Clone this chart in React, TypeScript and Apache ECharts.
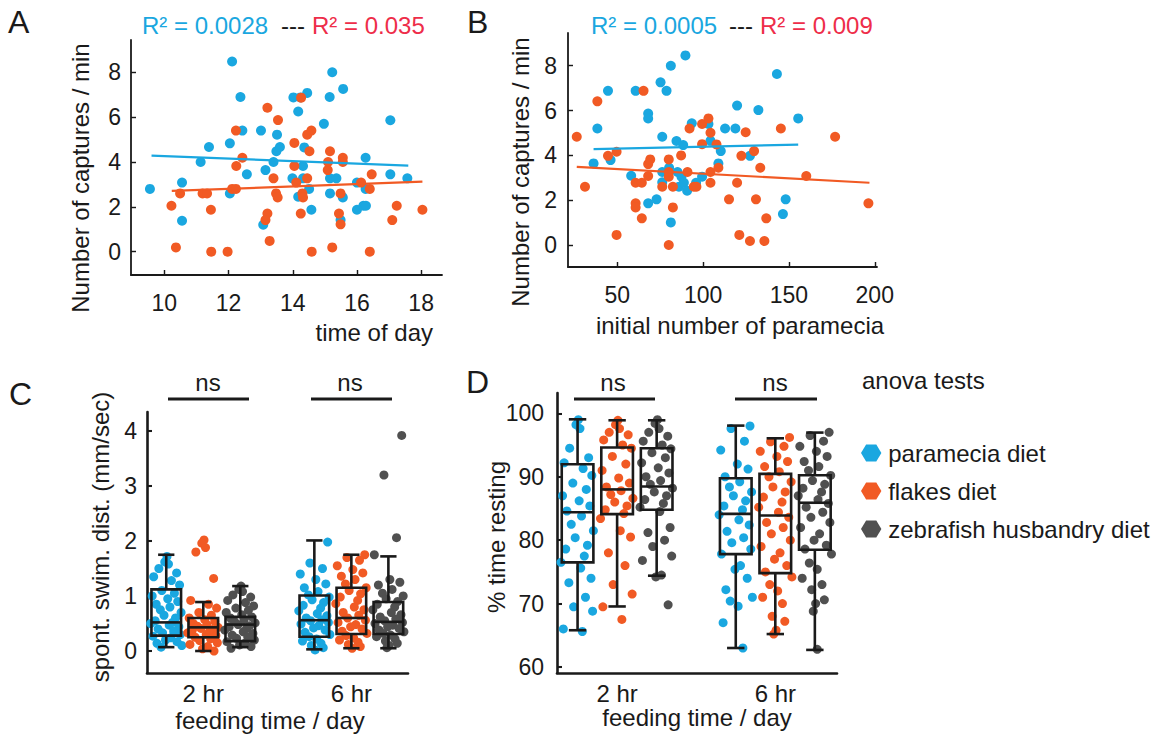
import React, { useEffect, useRef } from 'react';
import * as echarts from 'echarts';

const BLUE = '#1AA7E0';
const ORANGE = '#F15A24';
const GRAY = '#505050';
const RED_TXT = '#EE2D49';
const INK = '#1a1a1a';
const FONT = "'Liberation Sans', Arial, Helvetica, sans-serif";

// ---------- Panel A: captures vs time of day ----------
const timeTicks = [10, 12, 14, 16, 18];
const captureTicks = [0, 2, 4, 6, 8];
const timeParamecia: [number, number][] = [
  [9.55, 2.8], [10.55, 3.08], [10.55, 1.38], [11.13, 4.0], [11.39, 4.67], [12.04, 4.83], [12.04, 2.6],
  [12.11, 8.48], [12.37, 6.9], [12.43, 5.4], [12.57, 3.45], [13.01, 5.4], [13.15, 3.64], [13.08, 1.2],
  [13.4, 4.0], [13.51, 5.22], [13.49, 4.48], [13.6, 4.67], [14.02, 6.88], [14.17, 6.25], [14.24, 6.88],
  [14.45, 7.08], [14.32, 3.82], [14.36, 4.65], [13.99, 3.27], [14.17, 2.45], [14.32, 3.27], [14.51, 2.8],
  [14.58, 1.87], [14.97, 5.7], [15.15, 6.9], [15.23, 8.0], [15.57, 7.26], [15.16, 3.27], [15.36, 3.27],
  [15.16, 2.6], [15.56, 2.42], [15.49, 1.41], [16.0, 3.08], [16.0, 1.87], [16.2, 2.05], [16.28, 2.05],
  [16.27, 4.19], [16.27, 2.8], [17.04, 5.86], [17.04, 3.45], [17.57, 3.27],
];
const timeFlakes: [number, number][] = [
  [10.22, 2.05], [10.36, 0.19], [10.49, 2.6], [11.19, 2.6], [11.33, 2.6], [11.45, 1.87], [11.46, 0.0],
  [11.97, 0.0], [12.11, 2.8], [12.23, 2.8], [12.24, 3.82], [12.23, 5.4], [12.43, 4.19], [13.21, 6.42],
  [13.21, 1.7], [13.15, 1.41], [13.28, 0.48], [13.4, 3.27], [13.48, 2.6], [13.53, 2.42], [13.54, 5.87],
  [14.05, 4.85], [14.05, 3.82], [14.11, 3.08], [14.26, 6.87], [14.25, 1.7], [14.3, 2.6], [14.32, 2.42],
  [14.45, 3.27], [14.45, 5.22], [14.58, 5.4], [14.52, 4.48], [14.59, 0.0], [15.09, 3.64], [15.1, 4.0],
  [15.16, 4.48], [15.23, 0.19], [15.49, 2.6], [15.44, 1.7], [15.49, 1.22], [15.56, 4.19], [15.56, 4.0],
  [16.13, 3.08], [16.4, 2.8], [16.46, 3.45], [16.4, 0.0], [17.1, 1.41], [17.24, 2.05], [18.04, 1.87],
];
const timeFitParamecia: [number, number][] = [[9.6, 4.28], [17.6, 3.84]];
const timeFitFlakes: [number, number][] = [[10.23, 2.71], [18.04, 3.12]];
const timeR2 = ['R² = 0.0028', 'R² = 0.035'];

// ---------- Panel B: captures vs initial number of paramecia ----------
const initTicks = [50, 100, 150, 200];
const initParamecia: [number, number][] = [
  [36.2, 3.64], [38.4, 5.2], [44.6, 6.88], [46.1, 3.79], [58.1, 3.09], [60.7, 6.88], [68.0, 5.87],
  [68.0, 5.65], [68.0, 1.86], [72.9, 2.04], [75.2, 7.26], [76.2, 4.83], [76.2, 2.8], [76.2, 3.26],
  [78.7, 6.88], [81.2, 8.0], [81.2, 1.01], [80.2, 3.45], [84.5, 4.64], [85.1, 3.26], [85.9, 2.6],
  [87.4, 3.05], [88.4, 4.46], [88.8, 2.78], [89.7, 8.46], [90.7, 2.42], [93.4, 5.43], [95.9, 2.78],
  [99.4, 3.05], [103.1, 5.4], [104.3, 4.65], [108.9, 3.64], [110.3, 4.19], [112.8, 5.2], [118.8, 5.2],
  [119.8, 6.22], [127.3, 3.98], [132.2, 6.02], [143.0, 7.63], [146.5, 1.38], [148.1, 2.04], [155.4, 5.65],
];
const initFlakes: [number, number][] = [
  [26.4, 4.83], [31.2, 2.6], [38.4, 6.41], [44.6, 3.98], [49.6, 4.16], [49.6, 0.45], [60.7, 2.78],
  [60.7, 1.86], [60.7, 1.68], [64.3, 2.78], [64.3, 1.19], [65.3, 6.88], [68.0, 3.08], [68.0, 3.61],
  [69.2, 3.82], [76.2, 2.6], [80.0, 3.82], [80.0, 0.0], [80.0, 3.05], [80.0, 3.26], [82.4, 1.68],
  [82.4, 2.6], [87.2, 4.0], [90.9, 3.26], [92.1, 5.2], [94.6, 2.6], [96.1, 2.6], [99.4, 5.4], [99.4, 4.5],
  [103.1, 5.65], [104.3, 5.01], [104.3, 3.26], [104.3, 2.78], [107.8, 4.49], [108.9, 3.45], [115.1, 2.04],
  [119.8, 2.78], [121.1, 0.45], [122.3, 3.98], [124.8, 5.03], [127.3, 0.18], [129.7, 4.19], [130.8, 2.04],
  [133.3, 3.45], [135.7, 0.18], [136.8, 1.19], [145.3, 5.2], [160.1, 3.08], [176.9, 4.83], [196.3, 1.86],
];
const initFitParamecia: [number, number][] = [[36.2, 4.28], [155.4, 4.48]];
const initFitFlakes: [number, number][] = [[26.4, 3.49], [196.9, 2.78]];
const initR2 = ['R² = 0.0005', 'R² = 0.009'];

// ---------- Panels C & D ----------
const feedingTimes = ['2 hr', '6 hr'];
const diets = ['paramecia diet', 'flakes diet', 'zebrafish husbandry diet'];
const swimTicks = [0, 1, 2, 3, 4];
const restTicks = [60, 70, 80, 90, 100];

// box stats: [low whisker, q1, median, q3, high whisker] per diet
const swimBoxes2hr = [[0.07, 0.28, 0.52, 1.12, 1.75], [0.0, 0.25, 0.43, 0.6, 0.89], [0.07, 0.18, 0.48, 0.62, 1.18]];
const swimBoxes6hr = [[0.03, 0.26, 0.56, 1.01, 2.01], [0.05, 0.31, 0.6, 1.15, 1.75], [0.05, 0.31, 0.53, 0.89, 1.72]];
const restBoxes2hr = [[65.8, 76.5, 84.4, 91.97, 99.05], [69.55, 84.1, 88.0, 94.6, 98.9], [74.4, 84.8, 88.45, 94.5, 98.9]];
const restBoxes6hr = [[63.0, 77.8, 84.15, 89.76, 98.06], [65.2, 74.8, 83.9, 90.45, 96.06], [62.7, 78.5, 85.9, 90.24, 96.96]];

// individual fish values
const swim2hrParamecia = [1.72, 1.62, 1.58, 1.5, 1.42, 1.35, 1.28, 1.2, 1.1, 1.05, 1.0, 0.95, 0.9, 0.85, 0.8, 0.75, 0.7, 0.65, 0.6, 0.55, 0.52, 0.5, 0.47, 0.44, 0.4, 0.36, 0.33, 0.3, 0.27, 0.24, 0.2, 0.17, 0.14, 0.1, 0.07];
const swim2hrFlakes = [2.02, 1.96, 1.88, 1.8, 1.32, 0.92, 0.85, 0.78, 0.7, 0.65, 0.6, 0.57, 0.54, 0.5, 0.48, 0.45, 0.43, 0.41, 0.39, 0.37, 0.35, 0.33, 0.3, 0.28, 0.25, 0.22, 0.19, 0.15, 0.12, 0.08, 0.04, 0.0];
const swim2hrZebrafish = [1.18, 1.12, 1.08, 1.02, 0.98, 0.92, 0.88, 0.82, 0.78, 0.74, 0.7, 0.66, 0.62, 0.6, 0.57, 0.54, 0.51, 0.48, 0.46, 0.44, 0.41, 0.38, 0.35, 0.32, 0.29, 0.26, 0.23, 0.2, 0.17, 0.14, 0.11, 0.08, 0.05];
const swim6hrParamecia = [1.98, 1.6, 1.5, 1.4, 1.3, 1.22, 1.15, 1.08, 1.02, 0.98, 0.93, 0.88, 0.83, 0.78, 0.73, 0.68, 0.64, 0.6, 0.57, 0.55, 0.52, 0.49, 0.46, 0.42, 0.38, 0.34, 0.3, 0.26, 0.22, 0.18, 0.14, 0.1, 0.06, 0.02];
const swim6hrFlakes = [1.75, 1.7, 1.65, 1.55, 1.48, 1.42, 1.36, 1.3, 1.22, 1.15, 1.1, 1.04, 0.98, 0.92, 0.86, 0.8, 0.75, 0.7, 0.65, 0.6, 0.56, 0.52, 0.48, 0.44, 0.4, 0.36, 0.32, 0.28, 0.24, 0.2, 0.16, 0.12, 0.08, 0.05];
const swim6hrZebrafish = [3.92, 3.2, 2.06, 1.75, 1.3, 1.25, 1.2, 1.12, 1.05, 1.0, 0.95, 0.9, 0.85, 0.8, 0.75, 0.7, 0.66, 0.62, 0.58, 0.55, 0.52, 0.5, 0.47, 0.44, 0.41, 0.38, 0.35, 0.32, 0.29, 0.26, 0.22, 0.18, 0.14, 0.1, 0.06];

const rest2hrParamecia = [99, 98.2, 97.6, 94.5, 93, 92.2, 91.3, 90.2, 89, 88, 87, 86.2, 85.4, 84.6, 83.8, 82.5, 81.5, 80.4, 79.2, 78.6, 77.5, 76.5, 75.6, 74, 73.3, 71, 69.5, 68.8, 66, 65.6];
const rest2hrFlakes = [98.9, 98.2, 97.6, 97, 96.6, 95.8, 95, 94.5, 93.2, 92, 91, 89.8, 89, 88.4, 87.8, 87.2, 86.6, 86, 85.4, 84.8, 84.2, 83.4, 81.5, 80.5, 78, 76, 73, 71.5, 69.5, 67.5];
const rest2hrZebrafish = [99, 98.4, 97.6, 97, 96.4, 95.6, 95, 94.4, 93.8, 93, 92.2, 91.4, 90.6, 90, 89.4, 88.8, 88.2, 87.6, 87, 86.4, 85.8, 85.2, 84.5, 82, 81.2, 80, 79, 77.5, 76.8, 74.5, 74.2, 69.8];
const rest6hrParamecia = [98, 97.6, 95.6, 94.2, 92, 91.2, 90, 89.2, 88.4, 87.6, 87, 86.2, 85.4, 84.8, 84, 83.2, 82.4, 81.4, 80.4, 79.6, 78.6, 77.8, 76, 75.4, 74, 72.2, 71, 70.4, 69.6, 67, 63];
const rest6hrFlakes = [96.2, 95.5, 94.8, 94, 93.2, 92.4, 91.6, 90.8, 90, 89.2, 88.4, 87.6, 86.8, 86, 85.2, 84.4, 83.6, 82.8, 82, 81, 80, 79, 78, 77, 76, 75, 74.2, 73, 72, 71, 70, 68, 67.2, 65.8, 65.2];
const rest6hrZebrafish = [97, 96.5, 95.6, 94.8, 94, 93.2, 92.4, 91.6, 91, 90.2, 89.4, 88.8, 88.2, 87.6, 87, 86.4, 85.8, 85.2, 84.4, 83.6, 82.8, 82, 81, 80, 79.2, 78.6, 77.8, 76.4, 75.4, 74, 73, 72.2, 70.6, 70, 68.8, 62.8];

// horizontal jitter offsets for the dot strips (category-width units)
const jitter = [0.02, -0.04, 0.06, -0.2, 0.28, -0.34, 0.14, 0.36, -0.12, 0.22, -0.38, 0.04, 0.31, -0.27, 0.1, -0.16, 0.4, -0.06, 0.25, -0.3, 0.17, -0.42, 0.08, 0.34, -0.22, 0.2, -0.1, 0.38, -0.36, 0.12, -0.02, 0.29, -0.25, 0.42, -0.14, 0.06, -0.32, 0.18, -0.08, 0.24];

const dietColors = [BLUE, ORANGE, GRAY];
const slot = (g: number, k: number) => g * 4 + k + 1;

const stripData = (arr2: number[], arr6: number[], k: number) => [
  ...arr2.map((v, i) => [slot(0, k) + jitter[i % jitter.length], v]),
  ...arr6.map((v, i) => [slot(1, k) + jitter[(i + 7) % jitter.length], v]),
];
const boxData = (b2: number[][], b6: number[][]) => [
  ...b2.map((s, k) => [slot(0, k), ...s]),
  ...b6.map((s, k) => [slot(1, k), ...s]),
];

const boxRender = (params: any, api: any) => {
  const x = api.value(0);
  const lo = api.coord([x, api.value(1)]);
  const q1 = api.coord([x, api.value(2)]);
  const med = api.coord([x, api.value(3)]);
  const q3 = api.coord([x, api.value(4)]);
  const hi = api.coord([x, api.value(5)]);
  const bw = api.size([0.8, 0])[0];
  const cw = api.size([0.44, 0])[0];
  const cx = lo[0];
  const st = { stroke: INK, lineWidth: 2.6, fill: 'none' };
  return {
    type: 'group',
    children: [
      { type: 'line', shape: { x1: cx, y1: q3[1], x2: cx, y2: hi[1] }, style: st },
      { type: 'line', shape: { x1: cx, y1: q1[1], x2: cx, y2: lo[1] }, style: st },
      { type: 'line', shape: { x1: cx - cw / 2, y1: hi[1], x2: cx + cw / 2, y2: hi[1] }, style: st },
      { type: 'line', shape: { x1: cx - cw / 2, y1: lo[1], x2: cx + cw / 2, y2: lo[1] }, style: st },
      { type: 'rect', shape: { x: cx - bw / 2, y: q3[1], width: bw, height: q1[1] - q3[1] }, style: st },
      { type: 'line', shape: { x1: cx - bw / 2, y1: med[1], x2: cx + bw / 2, y2: med[1] }, style: st },
    ],
  };
};

const valueAxis = (gridIndex: number, min: number, max: number, ticks: number[] | null, lineW: number, margin: number) => ({
  type: 'value',
  gridIndex,
  min,
  max,
  axisLine: { show: true, onZero: false, lineStyle: { color: INK, width: lineW } },
  axisTick: ticks
    ? { show: true, inside: true, length: 5, customValues: ticks, lineStyle: { color: INK, width: lineW * 0.8 } }
    : { show: false },
  axisLabel: { color: INK, fontSize: 23, fontFamily: FONT, margin, customValues: ticks || undefined },
  splitLine: { show: false },
});

function buildOption() {
  const text = (t: string, x: number, y: number, size: number, color = INK, align = 'left', rotate = 0) => ({
    type: 'text',
    x,
    y,
    rotation: rotate,
    silent: true,
    style: { text: t, fill: color, fontSize: size, fontFamily: FONT, textAlign: align, textVerticalAlign: 'middle' },
  });
  const hline = (x1: number, x2: number, y: number) => ({
    type: 'line',
    silent: true,
    shape: { x1, y1: y, x2, y2: y },
    style: { stroke: INK, lineWidth: 3 },
  });

  const catAxis = (gridIndex: number, max: number) => ({
    type: 'value',
    gridIndex,
    min: 0.48,
    max,
    axisLine: { show: true, onZero: false, lineStyle: { color: INK, width: 2.6 } },
    axisTick: { show: false },
    axisLabel: {
      color: INK,
      fontSize: 24,
      fontFamily: FONT,
      margin: 8,
      customValues: [2, 6],
      formatter: (v: number) => (v < 4 ? feedingTimes[0] : feedingTimes[1]),
    },
    splitLine: { show: false },
  });

  const scatter = (name: string, data: any, color: string, xi: number, size: number) => ({
    type: 'scatter',
    name,
    xAxisIndex: xi,
    yAxisIndex: xi,
    data,
    symbol: 'circle',
    symbolSize: size,
    itemStyle: { color, opacity: 1 },
    z: 2,
    silent: true,
  });
  const fit = (data: any, color: string, xi: number) => ({
    type: 'line',
    xAxisIndex: xi,
    yAxisIndex: xi,
    data,
    symbol: 'none',
    lineStyle: { color, width: 2.2 },
    z: 4,
    silent: true,
  });

  return {
    animation: false,
    backgroundColor: '#ffffff',
    textStyle: { fontFamily: FONT },
    grid: [
      { left: 131, top: 40, width: 311, height: 235, outerBoundsMode: 'none', containLabel: false },
      { left: 568, top: 33, width: 309, height: 234, outerBoundsMode: 'none', containLabel: false },
      { left: 147, top: 412, width: 261, height: 261, outerBoundsMode: 'none', containLabel: false },
      { left: 557, top: 393, width: 280, height: 280, outerBoundsMode: 'none', containLabel: false },
    ],
    xAxis: [
      valueAxis(0, 8.96, 18.65, timeTicks, 1.8, 16),
      valueAxis(1, 21.3, 201.3, initTicks, 1.8, 16),
      catAxis(2, 7.53),
      catAxis(3, 7.56),
    ],
    yAxis: [
      valueAxis(0, -1.04, 9.44, captureTicks, 1.8, 10),
      valueAxis(1, -0.98, 9.46, captureTicks, 1.8, 11),
      valueAxis(2, -0.4, 4.345, swimTicks, 2.6, 10),
      valueAxis(3, 59.06, 103.2, restTicks, 2.6, 13),
    ],
    legend: {
      show: true,
      orient: 'vertical',
      left: 856,
      top: 436,
      itemWidth: 24,
      itemHeight: 17,
      itemGap: 14,
      selectedMode: false,
      icon: 'path://M0,5 L3,0 L9,0 L12,5 L9,10 L3,10 Z',
      textStyle: { fontSize: 24, fontFamily: FONT, color: INK },
      data: diets,
    },
    series: [
      scatter('A paramecia', timeParamecia, BLUE, 0, 10),
      scatter('A flakes', timeFlakes, ORANGE, 0, 10),
      fit(timeFitParamecia, BLUE, 0),
      fit(timeFitFlakes, ORANGE, 0),
      scatter('B paramecia', initParamecia, BLUE, 1, 10),
      scatter('B flakes', initFlakes, ORANGE, 1, 10),
      fit(initFitParamecia, BLUE, 1),
      fit(initFitFlakes, ORANGE, 1),
      scatter(diets[0], stripData(swim2hrParamecia, swim6hrParamecia, 0), dietColors[0], 2, 9),
      scatter(diets[1], stripData(swim2hrFlakes, swim6hrFlakes, 1), dietColors[1], 2, 9),
      scatter(diets[2], stripData(swim2hrZebrafish, swim6hrZebrafish, 2), dietColors[2], 2, 9),
      {
        type: 'custom',
        xAxisIndex: 2,
        yAxisIndex: 2,
        data: boxData(swimBoxes2hr, swimBoxes6hr),
        encode: { x: 0, y: [1, 2, 3, 4, 5] },
        renderItem: boxRender,
        clip: false,
        z: 5,
        silent: true,
      },
      scatter(diets[0], stripData(rest2hrParamecia, rest6hrParamecia, 0), dietColors[0], 3, 9),
      scatter(diets[1], stripData(rest2hrFlakes, rest6hrFlakes, 1), dietColors[1], 3, 9),
      scatter(diets[2], stripData(rest2hrZebrafish, rest6hrZebrafish, 2), dietColors[2], 3, 9),
      {
        type: 'custom',
        xAxisIndex: 3,
        yAxisIndex: 3,
        data: boxData(restBoxes2hr, restBoxes6hr),
        encode: { x: 0, y: [1, 2, 3, 4, 5] },
        renderItem: boxRender,
        clip: false,
        z: 5,
        silent: true,
      },
    ],
    graphic: [
      text('A', 8, 22, 32),
      text('B', 467, 22, 32),
      text('C', 9, 394, 32),
      text('D', 466, 382, 32),
      text(timeR2[0], 142, 25, 24, BLUE),
      text('---', 281, 25, 24, INK),
      text(timeR2[1], 312, 25, 24, RED_TXT),
      text(initR2[0], 591, 25, 24, BLUE),
      text('---', 729, 25, 24, INK),
      text(initR2[1], 760, 25, 24, RED_TXT),
      text('Number of captures / min', 80, 178, 24, INK, 'center', Math.PI / 2),
      text('Number of captures / min', 520, 172, 24, INK, 'center', Math.PI / 2),
      text('spont. swim. dist. (mm/sec)', 100, 537, 24, INK, 'center', Math.PI / 2),
      text('% time resting', 496, 537, 24, INK, 'center', Math.PI / 2),
      text('time of day', 433, 332, 24, INK, 'right'),
      text('initial number of paramecia', 740, 325, 24, INK, 'center'),
      text('feeding time / day', 270, 720, 24, INK, 'center'),
      text('feeding time / day', 697, 717, 24, INK, 'center'),
      text('ns', 208, 382, 24, INK, 'center'),
      text('ns', 350, 382, 24, INK, 'center'),
      text('ns', 613, 382, 24, INK, 'center'),
      text('ns', 775, 382, 24, INK, 'center'),
      hline(168, 249, 399),
      hline(311, 392, 399),
      hline(574, 655, 399),
      hline(735, 817, 399),
      text('anova tests', 862, 380, 24, INK, 'left'),
    ],
  };
}

export default function App() {
  const ref = useRef<HTMLDivElement>(null);
  useEffect(() => {
    if (!ref.current) return;
    const chart = echarts.init(ref.current, null, { renderer: 'svg' });
    chart.setOption(buildOption() as any);
    return () => chart.dispose();
  }, []);
  return (
    <div
      ref={ref}
      style={{ position: 'fixed', left: 0, top: 0, width: 1167, height: 736, background: '#ffffff' }}
    />
  );
}
